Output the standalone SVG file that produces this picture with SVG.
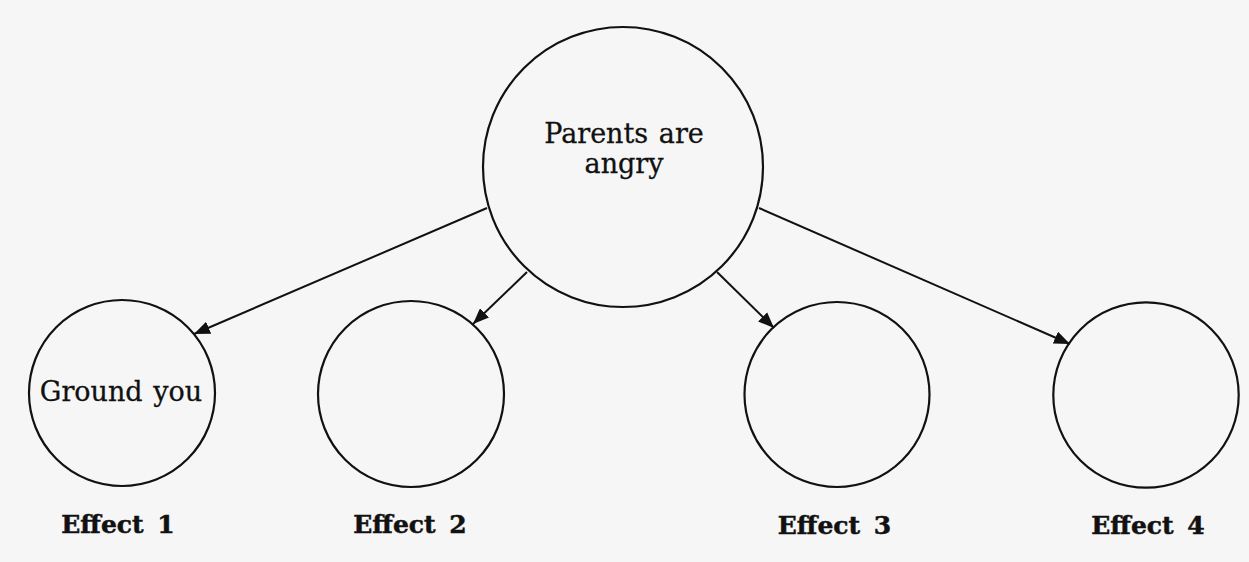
<svg xmlns="http://www.w3.org/2000/svg" width="1249" height="562" viewBox="0 0 1249 562">
<defs>
<style>
.node{fill:none;stroke:#111;stroke-width:2.2}
.lbl{font-family:"DejaVu Serif","Liberation Serif",serif;font-size:27px;fill:#111;stroke:#111;stroke-width:0.3;text-anchor:middle;word-spacing:2px}
.cap{font-family:"DejaVu Serif","Liberation Serif",serif;font-weight:bold;font-size:25px;fill:#111;stroke:#111;stroke-width:0.5;text-anchor:middle;word-spacing:5px}
.edge{fill:none;stroke:#111;stroke-width:2;marker-end:url(#ah)}
</style>
<marker id="ah" markerUnits="userSpaceOnUse" markerWidth="17" markerHeight="13" refX="16" refY="6.5" orient="auto">
<path d="M0,0 L16,6.5 L0,13 Z" fill="#111"/>
</marker>
</defs>
<rect width="1249" height="562" fill="#f6f6f6"/>
<g id="connectors">
<line class="edge" x1="487" y1="208" x2="194" y2="334"/>
<line class="edge" x1="527" y1="272" x2="473" y2="324"/>
<line class="edge" x1="717" y1="272" x2="774" y2="328"/>
<line class="edge" x1="759" y1="208" x2="1070" y2="344"/>
</g>
<g id="parents">
<circle class="node" cx="623" cy="167" r="140"/>
<text class="lbl" x="624" y="143">Parents are</text>
<text class="lbl" x="624" y="173">angry</text>
</g>
<g id="effect1">
<circle class="node" cx="122" cy="393" r="93"/>
<text class="lbl" x="121" y="401">Ground you</text>
<text class="cap" x="118" y="533">Effect 1</text>
</g>
<g id="effect2">
<circle class="node" cx="411" cy="394" r="93"/>
<text class="cap" x="410" y="533">Effect 2</text>
</g>
<g id="effect3">
<circle class="node" cx="837" cy="394.5" r="92.5"/>
<text class="cap" x="834.5" y="534">Effect 3</text>
</g>
<g id="effect4">
<circle class="node" cx="1146" cy="395" r="92.7"/>
<text class="cap" x="1148" y="534">Effect 4</text>
</g>
</svg>
